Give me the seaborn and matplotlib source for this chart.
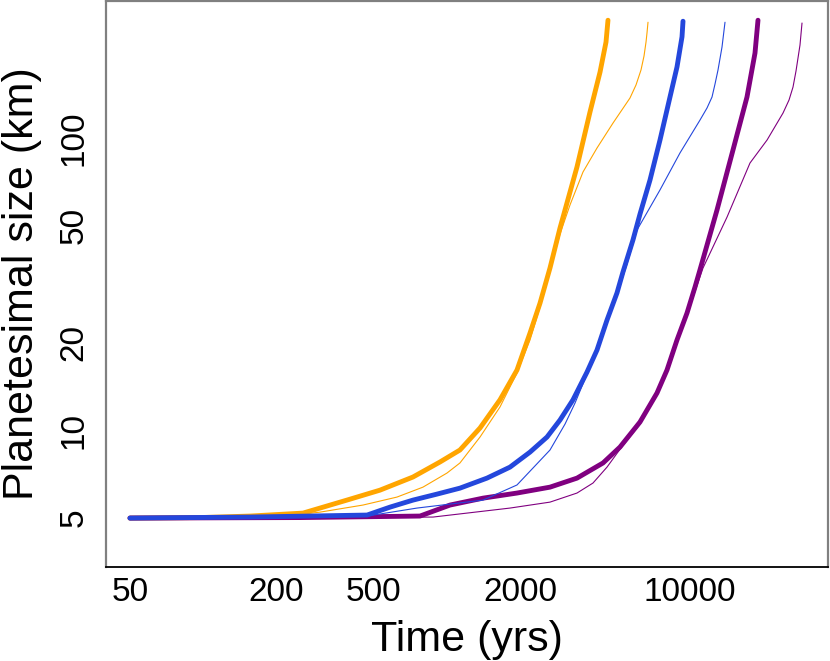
import numpy as np
import pandas as pd
import matplotlib
matplotlib.use("Agg")
import matplotlib.pyplot as plt
import seaborn as sns
from matplotlib.ticker import FixedLocator, FixedFormatter, NullLocator

# ---- data (time in years, planetesimal size in km) ----
orange_thick_t = [50, 97, 156, 257, 389, 532, 727, 939, 1134, 1371, 1656, 1945, 2200, 2418, 2658, 2922, 3431, 3880, 4266, 4515, 4600]
orange_thick_s = [5.0, 5.02, 5.08, 5.20, 5.76, 6.23, 6.91, 7.78, 8.55, 10.17, 12.7, 16.06, 21.5, 27.2, 35.9, 49.2, 79.6, 122.7, 168, 213, 253]

orange_thin_t = [50, 156, 257, 302, 453, 625, 799, 1003, 1134, 1371, 1656, 1945, 2200, 2418, 2658, 2922, 3212, 3632, 4146, 4824, 5663, 5997, 6286, 6468, 6592, 6654, 6717]
orange_thin_s = [5.0, 5.06, 5.16, 5.24, 5.54, 5.90, 6.38, 7.13, 7.72, 9.47, 12.0, 15.7, 20.35, 26.4, 35.4, 46.9, 59.0, 76.5, 92.4, 112.5, 137.0, 151.9, 170.9, 190.8, 213, 229, 249]

blue_thick_t = [50, 156, 471, 585, 727, 913, 1134, 1464, 1820, 2200, 2584, 2922, 3304, 3772, 4146, 4557, 5010, 5302, 5826, 6227, 6845, 7524, 8270, 8837, 9266, 9354]
blue_thick_s = [5.0, 5.04, 5.12, 5.45, 5.76, 6.04, 6.33, 6.85, 7.47, 8.41, 9.47, 10.83, 12.7, 15.8, 18.8, 23.8, 29.5, 34.8, 44.75, 54.9, 71.8, 98.4, 138.1, 175, 222, 251]

blue_thin_t = [50, 156, 471, 755, 1410, 1945, 2658, 3064, 3368, 3772, 4146, 4557, 5010, 5506, 6053, 7524, 9092, 10986, 11740, 12307, 12661, 13025, 13527, 13916]
blue_thin_s = [5.0, 5.04, 5.08, 5.41, 5.76, 6.49, 8.55, 10.49, 12.38, 15.56, 18.5, 23.4, 29.0, 37.0, 48.4, 66.4, 88.9, 115.2, 126.7, 138.1, 153.0, 170.9, 204.8, 249]

purple_thick_t = [50, 250, 777, 1032, 1410, 1945, 2658, 3431, 4389, 5153, 6227, 7314, 8039, 8837, 9714, 10478, 10986, 12903, 15010, 17134, 18482, 19013]
purple_thick_s = [5.0, 5.02, 5.08, 5.54, 5.85, 6.09, 6.38, 6.85, 7.72, 8.75, 10.66, 13.4, 16.06, 20.35, 25.16, 30.89, 35.4, 56.7, 91.0, 138.1, 195.3, 253]

purple_thin_t = [50, 250, 879, 1820, 2658, 3431, 3992, 4557, 5153, 6227, 7314, 8039, 8837, 9714, 11302, 14184, 17627, 20713, 24087, 25500, 26480, 27240, 28290, 28833]
purple_thin_s = [5.0, 5.0, 5.04, 5.41, 5.67, 6.09, 6.59, 7.47, 8.6, 10.49, 13.19, 15.8, 20.0, 24.8, 35.88, 53.6, 82.1, 98.4, 121.7, 134.9, 149.4, 169.5, 208.1, 247.5]

x_ticks = [50, 100, 200, 500, 1000, 2000, 5000, 10000, 20000]
x_tick_labels = ["50", "", "200", "500", "", "2000", "", "10000", ""]
y_ticks = [5, 10, 20, 50, 100, 200]
y_tick_labels = ["5", "10", "20", "50", "100", ""]

ORANGE = "#FFA500"
BLUE = "#2447DC"
PURPLE = "#800080"

sns.set_theme(style="white")
plt.rcParams["font.family"] = ["Liberation Sans", "DejaVu Sans"]

fig = plt.figure(figsize=(8.30, 6.61), dpi=100)
ax = fig.add_axes([106/830, 1 - 567/661, (828 - 106)/830, (567 - 1)/661])

series = [
    (orange_thick_t, orange_thick_s, ORANGE, 3.5),
    (orange_thin_t, orange_thin_s, ORANGE, 0.8),
    (purple_thick_t, purple_thick_s, PURPLE, 3.5),
    (purple_thin_t, purple_thin_s, PURPLE, 0.8),
    (blue_thick_t, blue_thick_s, BLUE, 3.5),
    (blue_thin_t, blue_thin_s, BLUE, 0.8),
]
for t, s, c, lw in series:
    df = pd.DataFrame({"t": t, "s": s})
    sns.lineplot(data=df, x="t", y="s", ax=ax, color=c, linewidth=lw,
                 sort=False, estimator=None, solid_capstyle="round")

ax.set_xscale("log")
ax.set_yscale("log")
ax.set_xlim(39.85, 36870)
ax.set_ylim(3.40, 294.4)

ax.xaxis.set_major_locator(FixedLocator(x_ticks))
ax.xaxis.set_major_formatter(FixedFormatter(x_tick_labels))
ax.xaxis.set_minor_locator(NullLocator())
ax.yaxis.set_major_locator(FixedLocator(y_ticks))
ax.yaxis.set_major_formatter(FixedFormatter(y_tick_labels))
ax.yaxis.set_minor_locator(NullLocator())

ax.tick_params(axis="both", which="major", direction="in", length=8, width=0.9,
               color="black", labelsize=24, labelcolor="black")
ax.tick_params(axis="x", pad=7)
ax.tick_params(axis="y", pad=12)
for lab in ax.get_yticklabels():
    lab.set_rotation(90)
    lab.set_va("center")

for side in ["left", "top", "right"]:
    ax.spines[side].set_color("#808080")
    ax.spines[side].set_linewidth(1.6)
ax.spines["bottom"].set_color("black")
ax.spines["bottom"].set_linewidth(1.3)

ax.set_xlabel("Time (yrs)", fontsize=31, color="black", labelpad=9)
ax.set_ylabel("Planetesimal size (km)", fontsize=31, color="black")
ax.yaxis.set_label_coords(-0.088, 0.5)

fig.savefig("out.png", dpi=100)
